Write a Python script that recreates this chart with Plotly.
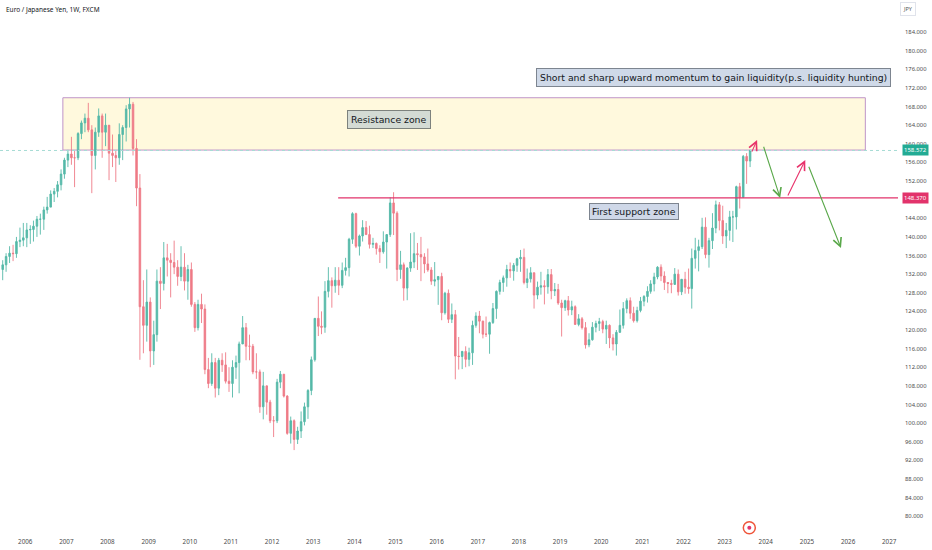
import pandas as pd
import plotly.graph_objects as go

# ---------------- DATA (monthly) ----------------
first_open = 133.0
start_month = "2005-06-01"

highs = [
    135.0, 136.5, 138.0, 138.3, 140.0, 142.0, 143.0,                                  # 2005 Jun-Dec
    143.0, 142.5, 143.5, 144.5, 145.0, 146.5, 148.6, 150.0, 150.5, 152.0, 154.5, 157.0,  # 2006
    158.7, 161.5, 158.5, 162.5, 165.0, 166.5, 168.8, 164.0, 163.5, 167.6, 166.5, 166.5,  # 2007
    163.5, 162.0, 158.5, 164.4, 164.0, 168.3, 169.9, 169.0, 161.0, 153.5, 130.7, 133.0,  # 2008
    127.0, 122.0, 133.0, 133.5, 138.9, 138.5, 136.5, 139.2, 135.0, 138.0, 136.5, 134.0,  # 2009
    134.5, 126.0, 126.5, 127.8, 125.5, 114.0, 115.0, 114.0, 114.0, 115.0, 115.2, 112.0,  # 2010
    113.5, 114.5, 117.5, 123.0, 121.5, 119.0, 117.0, 115.0, 111.5, 111.0, 108.0, 105.0,  # 2011
    101.5, 109.5, 111.2, 110.5, 106.0, 101.4, 100.8, 99.2, 102.5, 104.4, 107.3, 114.3,   # 2012
    122.5, 127.2, 124.0, 130.5, 133.5, 131.3, 133.5, 133.5, 134.5, 135.5, 139.8, 145.3,  # 2013
    145.2, 140.5, 143.6, 143.4, 142.4, 139.8, 138.8, 138.2, 141.2, 139.9, 148.5, 149.6,  # 2014
    145.5, 137.0, 134.5, 133.5, 140.8, 141.0, 138.7, 140.0, 136.5, 137.5, 133.5, 134.6,  # 2015
    131.5, 132.3, 128.2, 128.7, 125.7, 124.3, 118.5, 115.5, 116.5, 116.2, 122.0, 123.8,  # 2016
    124.1, 122.0, 122.9, 121.8, 125.8, 128.5, 130.8, 131.7, 134.0, 134.5, 134.4, 135.5,  # 2017
    137.2, 137.5, 133.2, 133.5, 132.3, 130.4, 132.5, 130.7, 133.1, 133.1, 130.1, 129.9,  # 2018
    126.5, 126.5, 127.3, 126.3, 125.3, 123.4, 122.8, 121.7, 119.3, 121.7, 122.0, 122.6,  # 2019
    122.2, 122.0, 121.2, 119.1, 120.0, 124.4, 126.0, 126.8, 127.0, 125.0, 125.0, 127.1,  # 2020
    127.5, 129.4, 130.7, 132.3, 133.7, 134.1, 132.6, 130.1, 130.8, 133.3, 133.0, 130.8,  # 2021
    132.5, 133.2, 137.5, 139.8, 139.4, 144.1, 144.2, 139.8, 145.1, 147.8, 147.5, 146.7,  # 2022
    143.0, 145.6, 145.6, 151.0, 151.6, 157.6, 158.0, 158.7,                              # 2023 Jan-Aug
]

lows = [
    130.7, 132.5, 134.4, 134.8, 135.5, 137.8, 138.0,
    137.8, 138.5, 139.0, 140.0, 140.5, 141.5, 145.0, 146.5, 147.5, 148.5, 150.0, 152.5,
    155.0, 155.5, 150.7, 156.5, 161.0, 162.5, 162.5, 149.4, 154.5, 161.5, 157.0, 159.5,
    152.2, 155.0, 151.8, 155.5, 156.5, 160.5, 163.5, 157.5, 146.6, 113.6, 115.0, 117.5,
    112.0, 112.5, 117.5, 124.5, 128.5, 131.5, 127.0, 132.0, 129.5, 130.5, 128.5, 126.5,
    125.0, 119.6, 119.9, 121.5, 110.5, 107.5, 108.0, 105.5, 106.0, 111.0, 108.5, 106.7,
    105.5, 109.5, 106.4, 117.0, 113.5, 113.5, 110.5, 109.5, 102.2, 100.8, 101.8, 100.0,
    97.0, 100.0, 107.5, 105.5, 97.5, 95.6, 94.2, 95.5, 96.8, 99.5, 100.9, 106.0,
    113.2, 118.7, 119.1, 119.4, 127.0, 124.8, 128.0, 127.5, 129.0, 131.7, 131.5, 138.5,
    137.6, 136.0, 139.0, 140.5, 137.5, 137.6, 136.2, 134.4, 136.4, 133.2, 140.0, 140.4,
    130.5, 131.0, 126.3, 126.4, 132.5, 133.3, 132.9, 130.5, 132.2, 132.5, 129.7, 129.4,
    125.4, 122.1, 123.3, 121.5, 121.5, 109.4, 111.5, 111.6, 112.0, 112.2, 112.5, 120.5,
    119.3, 118.2, 118.5, 114.9, 121.3, 122.4, 127.6, 128.2, 129.3, 131.2, 130.6, 132.5,
    132.5, 129.8, 129.0, 130.2, 124.6, 126.6, 127.6, 125.5, 127.8, 126.6, 127.3, 125.4,
    118.6, 124.1, 123.1, 123.2, 121.1, 120.8, 120.1, 116.0, 116.3, 117.7, 119.5, 119.8,
    119.3, 117.0, 116.1, 115.6, 114.5, 119.4, 120.3, 123.6, 122.4, 121.6, 121.6, 123.8,
    125.1, 125.9, 127.8, 128.3, 130.9, 130.5, 128.6, 127.9, 127.9, 129.7, 127.4, 127.5,
    127.8, 127.8, 124.6, 133.2, 132.6, 137.4, 135.4, 133.4, 137.4, 140.8, 141.4, 138.5,
    137.6, 139.2, 138.9, 141.6, 146.1, 148.4, 151.4, 155.0,
]

closes = [
    134.0, 135.8, 136.5, 136.4, 139.0, 139.3, 139.8,
    141.5, 141.6, 142.3, 143.8, 143.8, 145.8, 146.4, 149.2, 149.8, 151.2, 153.5, 156.5,
    157.8, 157.0, 157.0, 162.2, 164.5, 165.5, 163.0, 157.5, 162.5, 166.0, 162.5, 164.0,
    158.0, 157.5, 157.0, 162.0, 163.5, 167.5, 168.5, 159.0, 150.5, 125.0, 121.0, 126.0,
    115.5, 119.0, 130.5, 130.0, 135.5, 135.0, 134.5, 133.5, 131.5, 133.5, 130.5, 133.0,
    125.5, 120.5, 125.5, 124.5, 111.5, 108.5, 113.0, 107.5, 113.5, 112.5, 109.0, 108.5,
    112.0, 113.0, 117.0, 120.5, 116.5, 116.5, 111.0, 111.0, 103.5, 108.0, 104.5, 100.5,
    100.5, 108.8, 110.5, 105.8, 97.8, 100.5, 96.5, 98.3, 100.3, 103.5, 107.0, 113.6,
    122.5, 120.8, 120.6, 128.3, 130.6, 129.5, 130.7, 129.6, 132.8, 133.4, 139.5, 145.0,
    138.0, 140.2, 142.0, 140.5, 138.4, 138.6, 137.5, 136.8, 138.9, 140.5, 147.3, 145.1,
    133.0, 134.0, 129.0, 133.3, 134.6, 136.4, 136.2, 135.7, 134.2, 132.9, 130.5, 130.8,
    131.5, 123.7, 127.9, 122.3, 123.3, 114.4, 114.3, 115.4, 113.7, 115.1, 121.0, 123.0,
    121.9, 119.1, 119.1, 121.6, 124.6, 128.3, 130.2, 131.2, 133.0, 132.7, 133.9, 135.3,
    135.6, 130.2, 131.0, 132.3, 127.5, 129.2, 129.5, 129.3, 131.9, 128.4, 128.7, 125.8,
    124.8, 126.3, 124.3, 125.0, 121.2, 122.4, 120.5, 116.8, 117.9, 120.6, 121.4, 121.8,
    120.2, 121.0, 118.3, 117.0, 119.5, 121.0, 124.6, 126.3, 123.6, 122.0, 124.2, 126.2,
    127.2, 128.3, 129.9, 131.4, 133.5, 131.6, 130.2, 130.0, 129.8, 132.0, 128.2, 130.9,
    129.2, 128.9, 135.4, 137.1, 137.9, 142.1, 136.2, 139.2, 141.9, 146.9, 143.5, 140.2,
    141.4, 144.3, 144.3, 150.8, 148.5, 157.3, 156.3, 158.572,
]

last_price = 158.572
support_level = 148.370
resistance_low, resistance_high = 158.66, 169.9
resistance_start, resistance_end = "2006-12-01", "2026-06-03"
support_start = "2013-08-10"

price_ticks = list(range(80, 185, 4))

# projected path drawn on the chart: (from_x, from_y, to_x, to_y, colour)
arrows = [
    ("2023-08-25", 158.0, "2023-10-16", 160.8, "#e8336b"),
    ("2023-12-09", 159.7, "2024-05-08", 148.35, "#5aa84a"),
    ("2024-07-09", 148.56, "2024-12-17", 156.5, "#e8336b"),
    ("2025-01-12", 155.4, "2025-10-30", 137.6, "#5aa84a"),
]

# ---------------- BUILD ----------------
months = pd.date_range(start_month, periods=len(closes), freq="MS") + pd.Timedelta(days=14)
opens = [first_open] + closes[:-1]

UP, DOWN = "#55b9a8", "#ee7b87"

fig = go.Figure()

fig.add_trace(go.Candlestick(
    x=months, open=opens, high=highs, low=lows, close=closes,
    increasing=dict(line=dict(color=UP, width=0.9), fillcolor=UP),
    decreasing=dict(line=dict(color=DOWN, width=0.9), fillcolor=DOWN),
    whiskerwidth=0, showlegend=False,
))

# event marker near the bottom
fig.add_trace(go.Scatter(
    x=["2023-08-08"], y=[77.5], mode="markers",
    marker=dict(symbol="circle-open", size=12, line=dict(color="#e2336b", width=1.5)),
    cliponaxis=False, showlegend=False, hoverinfo="skip",
))
fig.add_trace(go.Scatter(
    x=["2023-08-08"], y=[77.5], mode="markers",
    marker=dict(symbol="circle", size=4, color="#e2336b"),
    cliponaxis=False, showlegend=False, hoverinfo="skip",
))

# resistance zone
fig.add_shape(type="rect", x0=resistance_start, x1=resistance_end,
              y0=resistance_low, y1=resistance_high,
              fillcolor="rgba(255,240,165,0.38)", line=dict(color="#bf94c9", width=1),
              layer="below")

# current price line and support line
fig.add_shape(type="line", xref="paper", x0=0, x1=1, y0=last_price, y1=last_price,
              line=dict(color="#a6dcd4", width=1, dash="dot"))
fig.add_shape(type="line", x0=support_start, x1="2027-03-20",
              y0=support_level, y1=support_level,
              line=dict(color="#e2336b", width=1.3))

for x0, y0, x1, y1, col in arrows:
    fig.add_annotation(x=x1, y=y1, ax=x0, ay=y0, axref="x", ayref="y",
                       showarrow=True, arrowhead=5, arrowsize=1.5, arrowwidth=1.1,
                       arrowcolor=col, text="")

box_font = dict(family="DejaVu Sans", size=9.3, color="#131722")
fig.add_annotation(x="2014-11-01", y=165.3, text="Resistance zone", showarrow=False,
                   font=box_font, bgcolor="#d4dbd4", bordercolor="#7d827d",
                   borderwidth=1, borderpad=3)
fig.add_annotation(x="2020-10-20", y=145.45, text="First support zone", showarrow=False,
                   font=box_font, bgcolor="#cfd8e8", bordercolor="#7d8590",
                   borderwidth=1, borderpad=2)
fig.add_annotation(x="2022-09-21", y=174.23,
                   text="Short and sharp upward momentum to gain liquidity(p.s. liquidity hunting)",
                   showarrow=False, font=box_font, bgcolor="#cfd9e8",
                   bordercolor="#7d8590", borderwidth=1, borderpad=3)

# price tags on the axis
tag_font = dict(family="Noto Sans", size=6, color="white")
fig.add_annotation(xref="paper", x=1.0045, xanchor="left", y=last_price,
                   text=f"{last_price:.3f}", showarrow=False,
                   font=tag_font, bgcolor="#22ab94", borderpad=1)
fig.add_annotation(xref="paper", x=1.0045, xanchor="left", y=support_level,
                   text=f"{support_level:.3f}", showarrow=False,
                   font=tag_font, bgcolor="#e2336b", borderpad=1)

# header texts
fig.add_annotation(xref="paper", yref="paper", x=0.004, y=0.983,
                   xanchor="left", yanchor="middle",
                   text="Euro / Japanese Yen, 1W, FXCM", showarrow=False,
                   font=dict(family="Noto Sans", size=6.5, color="#131722"))
fig.add_annotation(xref="paper", yref="paper", x=1.02, y=0.983, yanchor="middle",
                   text="JPY", showarrow=False,
                   font=dict(family="Noto Sans", size=5.5, color="#555"),
                   bordercolor="#e0e3eb", borderwidth=1, borderpad=2)

fig.update_layout(
    width=932, height=550,
    margin=dict(l=0, r=34, t=0, b=18, autoexpand=False),
    paper_bgcolor="white", plot_bgcolor="white",
    font=dict(family="Noto Sans", size=6, color="#4a4a4a"),
    xaxis=dict(type="date", range=["2005-05-22", "2027-03-20"],
               tick0="2006-01-01", dtick="M12", tickformat="%Y",
               showgrid=False, zeroline=False, showline=False, ticks="",
               tickfont=dict(size=6.3), ticklabelstandoff=5, automargin=False,
               rangeslider=dict(visible=False), fixedrange=True),
    yaxis=dict(side="right", range=[76.6, 190.9], tickvals=price_ticks,
               tickformat=".3f", showgrid=False, zeroline=False, showline=False,
               ticks="", tickfont=dict(size=5.8), ticklabelstandoff=6,
               automargin=False, fixedrange=True),
    hovermode=False,
)

# the page's default body margin would push the chart 8px off the window
fig.write_html("out.html", config={"displayModeBar": False},
               post_script="document.body.style.margin='0px';")
